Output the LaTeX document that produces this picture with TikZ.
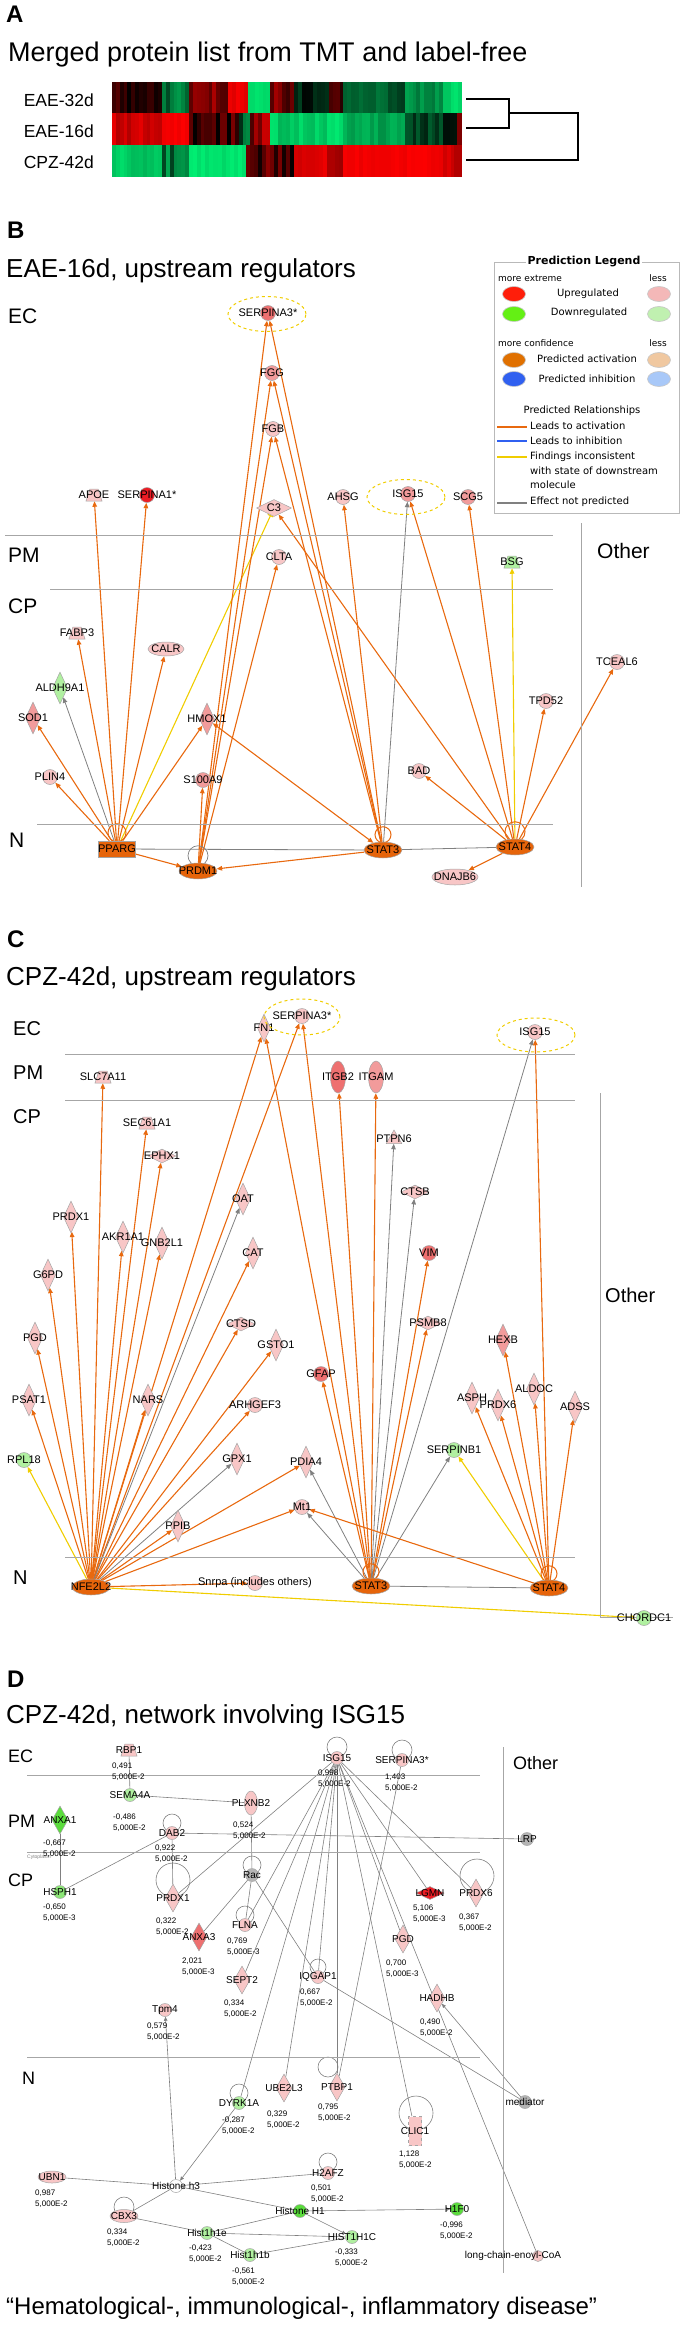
\documentclass[tikz,border=0pt]{standalone}
\usepackage{fontspec}
\setmainfont{Liberation Sans}
\newfontfamily\legfont{DejaVu Sans}
\usetikzlibrary{shapes.geometric,arrows.meta}
\pgfdeclarelayer{bg}
\pgfsetlayers{bg,main}
\definecolor{pk}{RGB}{248,198,198}
\definecolor{pkm}{RGB}{242,155,155}
\definecolor{pkr}{RGB}{238,112,112}
\definecolor{rd}{RGB}{236,28,36}
\definecolor{lgr}{RGB}{176,240,160}
\definecolor{grn}{RGB}{90,220,60}
\definecolor{org}{RGB}{230,100,10}
\definecolor{eor}{RGB}{232,105,15}
\definecolor{egy}{RGB}{128,128,128}
\definecolor{eyl}{RGB}{240,205,0}
\definecolor{nbd}{RGB}{165,165,165}
\definecolor{gyn}{RGB}{180,180,180}
\definecolor{hmR}{RGB}{255,0,0}
\definecolor{hmG}{RGB}{0,240,115}
\definecolor{lgRed}{RGB}{255,30,10}
\definecolor{lgPink}{RGB}{244,184,184}
\definecolor{lgGreen}{RGB}{100,240,20}
\definecolor{lgLGreen}{RGB}{192,240,176}
\definecolor{lgOrg}{RGB}{224,112,0}
\definecolor{lgLOrg}{RGB}{240,200,160}
\definecolor{lgBlue}{RGB}{48,96,240}
\definecolor{lgLBlue}{RGB}{168,200,248}
\newcommand\molnode[5]{\node[#1,fill=#2] (#3) at (#4) {}; \node[lbl] (#3-l) at (#3) {#5};}
\newcommand\valnode[3]{\node[valtxt] (#1) at (#2) {#3};}
\newcommand\heatrow[3]{% #1 y top, #2 y bottom, #3 segment list
  \foreach \xa/\xb/\c/\lo/\hi in {#3}{
    \pgfmathtruncatemacro\n{max(1,round((\xb-\xa)/4))}
    \pgfmathsetmacro\w{(\xb-\xa)/\n}
    \foreach \k in {1,...,\n}{
      \pgfmathtruncatemacro\v{\lo+rnd*(\hi-\lo)}
      \fill[fill=\c!\v!black] ({\xa+(\k-1)*\w},#1) rectangle ({\xa+\k*\w+0.4},#2);
    }
  }}
\begin{document}
\begin{tikzpicture}[x=1pt,y=-1pt,
 nd/.style={draw=nbd, line width=0.5pt, inner sep=0pt},
 circ/.style={nd, circle, minimum size=15pt},
 scirc/.style={nd, circle, minimum size=13pt},
 dia/.style={nd, diamond, minimum width=15pt, minimum height=32pt},
 hdia/.style={nd, diamond, minimum width=32pt, minimum height=15pt},
 trap/.style={nd, trapezium, trapezium stretches=true, trapezium left angle=65, trapezium right angle=65, inner sep=1pt, minimum width=16pt, minimum height=12pt},
 tri/.style={nd, regular polygon, regular polygon sides=3, minimum size=18pt},
 ell/.style={nd, ellipse, minimum width=38pt, minimum height=16pt},
 vell/.style={nd, ellipse, minimum width=15pt, minimum height=32pt},
 rect/.style={nd, rectangle, minimum width=37pt, minimum height=16pt},
 lbl/.style={inner sep=0pt, font=\fontsize{11}{11}\selectfont},
 valtxt/.style={anchor=north west, inner sep=0pt, align=left, font=\fontsize{8}{11}\selectfont},
 tip/.style={-{Triangle[length=5.5pt,width=4.5pt]}},
 ea/.style={draw=eor, line width=1.1pt, tip},
 eab/.style={draw=eor, line width=1.1pt, {Triangle[length=5.5pt,width=4.5pt]}-{Triangle[length=5.5pt,width=4.5pt]}},
 eg/.style={draw=egy, line width=0.8pt, tip},
 egl/.style={draw=egy, line width=0.8pt},
 ey/.style={draw=eyl, line width=1.1pt, tip},
 dl/.style={draw=egy, line width=0.6pt},
 dla/.style={draw=egy, line width=0.6pt, -{Triangle[length=4pt,width=3.5pt]}},
 loopo/.style={draw=eor, line width=1pt},
 loopg/.style={draw=egy, line width=0.7pt},
 sepl/.style={draw=gray!70, line width=0.9pt},
 dashell/.style={draw=eyl, dashed, line width=1pt, ellipse, inner sep=0pt},
 pletter/.style={anchor=base west, inner sep=0pt, font=\bfseries\fontsize{24}{24}\selectfont},
 ptitle/.style={anchor=base west, inner sep=0pt, font=\fontsize{26}{26}\selectfont},
 sect/.style={anchor=base west, inner sep=0pt, font=\fontsize{21}{21}\selectfont},
 rowlbl/.style={anchor=east, inner sep=0pt, font=\fontsize{17.5}{17.5}\selectfont},
 legtxt/.style={inner sep=0pt, font=\legfont\fontsize{10}{10}\selectfont},
 legsm/.style={inner sep=0pt, font=\legfont\fontsize{9}{9}\selectfont},
 legell/.style={ellipse, draw=gray!45, line width=0.6pt, minimum width=23pt, minimum height=15pt, inner sep=0pt}
]
\useasboundingbox (0,0) rectangle (685,2325);

% ================= Panel A =================
\node[pletter] (pA) at (6,23) {A};
\node[ptitle, font=\fontsize{27}{27}\selectfont] (tA) at (8,62) {Merged protein list from TMT and label-free};
\node[rowlbl] (rA1) at (94,100) {EAE-32d};
\node[rowlbl] (rA2) at (94,131) {EAE-16d};
\node[rowlbl] (rA3) at (94,162) {CPZ-42d};
\pgfmathsetseed{11}
\heatrow{82}{113.8}{112/162/hmR/0/35, 162/189/hmG/15/70, 189/228/hmR/30/70, 228/248/hmR/85/100, 248/270/hmG/90/100, 270/294/hmR/20/90, 294/329/hmG/0/30, 329/343/hmR/10/40, 343/388/hmG/35/55, 388/405/hmG/22/40, 405/443/hmG/50/70, 443/462/hmG/80/100}
\heatrow{113.5}{145.3}{112/162/hmR/70/95, 162/189/hmR/92/100, 189/239/hmR/0/55, 239/250/hmG/10/60, 250/270/hmR/30/80, 270/327/hmG/75/95, 327/343/hmG/90/100, 343/405/hmG/60/80, 405/443/hmG/15/45, 443/457/hmG/0/10, 457/462/hmR/30/50}
\heatrow{145}{177}{112/162/hmG/75/95, 162/189/hmG/25/70, 189/246/hmG/88/100, 246/294/hmR/0/60, 294/327/hmR/75/95, 327/343/hmR/60/75, 343/443/hmR/92/100, 443/462/hmR/70/90}
\draw[line width=1.8pt] (466,99) -- (509,99) -- (509,128) -- (466,128);
\draw[line width=1.8pt] (509,113) -- (578,113) -- (578,160) -- (466,160);

% ================= Panel B =================
\node[pletter] (pB) at (7,239) {B};
\node[ptitle] (tB) at (6,277) {EAE-16d, upstream regulators};
\node[sect] (bEC) at (8,323) {EC};
\node[sect] (bPM) at (8,562) {PM};
\node[sect] (bCP) at (8,613) {CP};
\node[sect] (bN) at (9,847) {N};
\node[sect] (bOther) at (597,558) {Other};
\draw[sepl] (5,535) -- (553,535);
\draw[sepl] (50,589) -- (553,589);
\draw[sepl] (37,824) -- (553,824);
\draw[sepl] (581,523) -- (581,887);

\molnode{circ}{pkr}{bSA3}{268,313}{SERPINA3*}
\molnode{circ}{pkm}{bFGG}{272,373}{FGG}
\molnode{circ}{pk}{bFGB}{273,429}{FGB}
\molnode{trap}{pk}{bAPOE}{94,495}{APOE}
\molnode{circ}{rd}{bSA1}{147,495}{SERPINA1*}
\molnode{hdia,minimum width=35pt,minimum height=17pt}{pk}{bC3}{274,508}{C3}
\molnode{circ}{pk}{bAHSG}{343,497}{AHSG}
\molnode{circ}{pkm}{bISG}{408,494}{ISG15}
\molnode{circ}{pkm}{bSCG5}{468,497}{SCG5}
\molnode{circ}{pk}{bCLTA}{279,557}{CLTA}
\molnode{trap}{lgr}{bBSG}{512,562}{BSG}
\molnode{trap}{pk}{bFABP}{77,633}{FABP3}
\molnode{ell,minimum width=36pt,minimum height=14pt}{pk}{bCALR}{166,649}{CALR}
\molnode{dia}{lgr}{bALDH}{60,688}{ALDH9A1}
\molnode{dia}{pkm}{bSOD}{33,718}{SOD1}
\molnode{dia}{pkm}{bHMOX}{207,719}{HMOX1}
\molnode{circ}{pk}{bPLIN}{50,777}{PLIN4}
\molnode{circ}{pkm}{bS100}{203,780}{S100A9}
\molnode{rect}{org}{bPPARG}{117,849}{PPARG}
\molnode{ell}{org}{bPRDM}{198,871}{PRDM1}
\molnode{ell}{org}{bSTAT3}{383,850}{STAT3}
\molnode{ell}{org}{bSTAT4}{515,847}{STAT4}
\molnode{ell,minimum width=46pt}{pk}{bDNAJ}{455,877}{DNAJB6}
\molnode{circ}{pk}{bBAD}{419,771}{BAD}
\molnode{circ}{pk}{bTPD}{546,701}{TPD52}
\molnode{circ}{pk}{bTCE}{617,662}{TCEAL6}
\node[dashell, minimum width=78pt, minimum height=35pt] (bSA3e) at (267,314) {};
\node[dashell, minimum width=78pt, minimum height=35pt] (bISGe) at (406,497) {};

% legend
\draw[draw=gray!55, line width=0.8pt] (494,262) rectangle (679,513);
\node[fill=white, inner sep=2pt, font=\legfont\bfseries\fontsize{11}{11}\selectfont] (legT) at (584,262) {Prediction Legend};
\node[legsm, anchor=west] (legME) at (498,278) {more extreme};
\node[legsm] (legL1) at (658,278) {less};
\node[legell, fill=lgRed] (legE1) at (514,294) {};
\node[legtxt] (legU) at (588,294) {Upregulated};
\node[legell, fill=lgPink] (legE2) at (659,294) {};
\node[legell, fill=lgGreen] (legE3) at (514,314) {};
\node[legtxt] (legD) at (589,313) {Downregulated};
\node[legell, fill=lgLGreen] (legE4) at (659,314) {};
\node[legsm, anchor=west] (legMC) at (498,343) {more confidence};
\node[legsm] (legL2) at (658,343) {less};
\node[legell, fill=lgOrg] (legE5) at (514,360) {};
\node[legtxt] (legPA) at (587,359) {Predicted activation};
\node[legell, fill=lgLOrg] (legE6) at (659,360) {};
\node[legell, fill=lgBlue] (legE7) at (514,379) {};
\node[legtxt] (legPI) at (587,379) {Predicted inhibition};
\node[legell, fill=lgLBlue] (legE8) at (659,379) {};
\node[legtxt] (legPR) at (582,411) {Predicted Relationships};
\coordinate (lgA1) at (497,427); \coordinate (lgA2) at (527,427);
\coordinate (lgB1) at (497,441); \coordinate (lgB2) at (527,441);
\coordinate (lgC1) at (497,457); \coordinate (lgC2) at (527,457);
\coordinate (lgD1) at (497,503); \coordinate (lgD2) at (527,503);
\draw[draw=eor, line width=1.8pt] (lgA1) -- (lgA2);
\draw[draw=lgBlue, line width=1.8pt] (lgB1) -- (lgB2);
\draw[draw=eyl, line width=1.8pt] (lgC1) -- (lgC2);
\draw[draw=egy, line width=1.8pt] (lgD1) -- (lgD2);
\node[legtxt, anchor=west] (legLA) at (530,426) {Leads to activation};
\node[legtxt, anchor=west] (legLI) at (530,441) {Leads to inhibition};
\node[legtxt, anchor=north west, align=left, font=\legfont\fontsize{10}{14.5}\selectfont] (legFI) at (530,452) {Findings inconsistent\\with state of downstream\\molecule};
\node[legtxt, anchor=west] (legEN) at (530,502) {Effect not predicted};

% ================= Panel C =================
\node[pletter] (pC) at (7,947) {C};
\node[ptitle] (tC) at (6,985) {CPZ-42d, upstream regulators};
\begin{scope}[sect/.style={anchor=base west, inner sep=0pt, font=\fontsize{20}{20}\selectfont}]
\node[sect] (cEC) at (13,1035) {EC};
\node[sect] (cPM) at (13,1079) {PM};
\node[sect] (cCP) at (13,1123) {CP};
\node[sect] (cN) at (13,1584) {N};
\node[sect] (cOther) at (605,1302) {Other};
\end{scope}
\draw[sepl] (65,1054) -- (575,1054);
\draw[sepl] (65,1100) -- (575,1100);
\draw[sepl] (65,1557) -- (575,1557);
\draw[sepl] (600,1093) -- (600,1617) -- (673,1617);

\molnode{dia,minimum width=13pt,minimum height=28pt}{pk}{cFN1}{264,1028}{FN1}
\molnode{circ}{pk}{cSA3}{302,1016}{SERPINA3*}
\molnode{circ}{pk}{cISG}{535,1032}{ISG15}
\molnode{trap}{pk}{cSLC}{103,1077}{SLC7A11}
\molnode{vell}{pkr}{cITGB}{338,1077}{ITGB2}
\molnode{vell}{pkm}{cITGAM}{376,1077}{ITGAM}
\molnode{trap}{pk}{cSEC}{147,1123}{SEC61A1}
\molnode{hdia,minimum width=28pt,minimum height=14pt}{pk}{cEPHX}{162,1156}{EPHX1}
\molnode{dia}{pk}{cOAT}{243,1199}{OAT}
\molnode{dia}{pk}{cPRDX1}{71,1217}{PRDX1}
\molnode{dia}{pk}{cAKR}{123,1237}{AKR1A1}
\molnode{dia}{pk}{cGNB}{162,1243}{GNB2L1}
\molnode{dia}{pk}{cCAT}{253,1253}{CAT}
\molnode{dia}{pk}{cG6PD}{48,1275}{G6PD}
\molnode{hdia,minimum width=28pt,minimum height=14pt}{pk}{cCTSD}{241,1324}{CTSD}
\molnode{dia}{pk}{cPGD}{35,1338}{PGD}
\molnode{dia}{pk}{cGSTO}{276,1345}{GSTO1}
\molnode{circ}{pkr}{cGFAP}{321,1374}{GFAP}
\molnode{dia}{pk}{cPSAT}{29,1400}{PSAT1}
\molnode{dia}{pk}{cNARS}{148,1400}{NARS}
\molnode{circ}{pk}{cARH}{255,1405}{ARHGEF3}
\molnode{tri}{pk}{cPTPN}{394,1139}{PTPN6}
\molnode{hdia,minimum width=28pt,minimum height=14pt}{pk}{cCTSB}{415,1192}{CTSB}
\molnode{circ}{pkr}{cVIM}{429,1253}{VIM}
\molnode{hdia,minimum width=28pt,minimum height=14pt}{pk}{cPSMB}{428,1323}{PSMB8}
\molnode{dia}{pkm}{cHEXB}{503,1340}{HEXB}
\molnode{dia}{pk}{cALDOC}{534,1389}{ALDOC}
\molnode{dia}{pk}{cASPH}{472,1398}{ASPH}
\molnode{dia}{pk}{cPRDX6}{498,1405}{PRDX6}
\molnode{dia}{pk}{cADSS}{575,1407}{ADSS}
\molnode{circ}{lgr}{cRPL}{24,1460}{RPL18}
\molnode{dia}{pk}{cGPX}{237,1459}{GPX1}
\molnode{dia}{pk}{cPDIA}{306,1462}{PDIA4}
\molnode{circ}{pk}{cMT1}{302,1507}{Mt1}
\molnode{dia}{pk}{cPPIB}{178,1526}{PPIB}
\molnode{ell}{org}{cNFE}{91,1587}{NFE2L2}
\molnode{circ}{pk}{cSNR}{255,1583}{Snrpa (includes others)}
\molnode{circ}{lgr}{cSERB}{454,1450}{SERPINB1}
\molnode{ell}{org}{cSTAT3}{371,1586}{STAT3}
\molnode{ell}{org}{cSTAT4}{549,1588}{STAT4}
\molnode{circ}{lgr}{cCHO}{644,1618}{CHORDC1}
\node[dashell, minimum width=76pt, minimum height=36pt] (cSA3e) at (302,1017) {};
\node[dashell, minimum width=78pt, minimum height=34pt] (cISGe) at (536,1035) {};

% ================= Panel D =================
\node[pletter] (pD) at (7,1687) {D};
\node[ptitle] (tD) at (6,1723) {CPZ-42d, network involving ISG15};
\begin{scope}[sect/.style={anchor=base west, inner sep=0pt, font=\fontsize{18}{18}\selectfont}]
\node[sect] (dEC) at (8,1762) {EC};
\node[sect] (dPM) at (8,1827) {PM};
\node[sect] (dCP) at (8,1886) {CP};
\node[sect] (dN) at (22,2084) {N};
\node[sect] (dOther) at (513,1769) {Other};
\end{scope}
\draw[sepl, line width=0.7pt] (27,1775) -- (480,1775);
\draw[sepl, line width=0.7pt] (27,1852) -- (480,1852);
\draw[sepl, line width=0.7pt] (27,2057) -- (480,2057);
\draw[sepl, line width=0.7pt] (503,1747) -- (503,2273);
\node[anchor=west, inner sep=0pt, text=gray, font=\fontsize{5}{5}\selectfont] (dCyto) at (27,1857) {Cytoplasm};
\node[ptitle, font=\fontsize{24}{24}\selectfont] (capD) at (6,2314) {“Hematological-, immunological-, inflammatory disease”};

\begin{scope}[lbl/.style={inner sep=0pt, font=\fontsize{10}{10}\selectfont},
  dia/.style={nd, diamond, minimum width=16pt, minimum height=28pt}]
\molnode{trap}{pk}{dRBP}{129,1750}{RBP1}
\molnode{scirc}{pk}{dISG}{337,1758}{ISG15}
\molnode{scirc}{pk}{dSA3}{402,1760}{SERPINA3*}
\molnode{scirc}{lgr}{dSEMA}{130,1795}{SEMA4A}
\molnode{vell,minimum width=13pt,minimum height=24pt}{pk}{dPLX}{251,1803}{PLXNB2}
\molnode{dia}{grn}{dANX1}{60,1820}{ANXA1}
\molnode{scirc}{pk}{dDAB}{172,1833}{DAB2}
\molnode{scirc}{gyn}{dLRP}{527,1839}{LRP}
\molnode{scirc}{grn!70!white}{dHSP}{60,1892}{HSPH1}
\molnode{dia}{pk}{dPRDX1}{173,1898}{PRDX1}
\molnode{scirc}{gyn}{dRAC}{252,1875}{Rac}
\molnode{hdia,minimum width=28pt,minimum height=13pt}{rd}{dLGMN}{430,1893}{LGMN}
\molnode{dia}{pk}{dPRDX6}{476,1893}{PRDX6}
\molnode{dia}{pkr}{dANX3}{199,1937}{ANXA3}
\molnode{scirc}{pk}{dFLNA}{245,1925}{FLNA}
\molnode{dia}{pk}{dPGD}{403,1939}{PGD}
\molnode{scirc}{pk}{dIQG}{318,1977}{IQGAP1}
\molnode{dia}{pk}{dSEPT}{242,1980}{SEPT2}
\molnode{dia}{pk}{dHAD}{437,1998}{HADHB}
\molnode{scirc}{pk}{dTPM}{165,2010}{Tpm4}
\molnode{scirc}{lgr}{dDYR}{239,2103}{DYRK1A}
\molnode{dia}{pk}{dUBE}{284,2088}{UBE2L3}
\molnode{dia}{pk}{dPTB}{337,2087}{PTBP1}
\molnode{scirc}{gyn}{dMED}{525,2102}{mediator}
\molnode{rect,dashed,minimum width=13pt,minimum height=29pt}{pk}{dCLIC}{415,2131}{CLIC1}
\molnode{ell,minimum width=28pt,minimum height=12pt}{pk}{dUBN}{52,2177}{UBN1}
\molnode{scirc}{white}{dH3}{176,2186}{Histone h3}
\molnode{scirc}{pk}{dH2A}{328,2173}{H2AFZ}
\molnode{ell,minimum width=28pt,minimum height=13pt}{pk}{dCBX}{124,2216}{CBX3}
\molnode{scirc}{grn}{dH1}{300,2211}{Histone H1}
\molnode{scirc}{lgr}{dH1E}{207,2233}{Hist1h1e}
\molnode{scirc}{lgr}{dH1B}{250,2255}{Hist1h1b}
\molnode{scirc}{lgr}{dH1C}{352,2237}{HIST1H1C}
\molnode{scirc}{grn}{dH1F0}{457,2209}{H1F0}
\molnode{circ,minimum size=11pt}{pk}{dLCOA}{538,2256}{}
\node[lbl] (dLCOAt) at (513,2256) {long-chain-enoyl-CoA};
\end{scope}

\valnode{vRBP}{112,1763}{0,491\\5,000E-2}
\valnode{vISG}{318,1770}{0,998\\5,000E-2}
\valnode{vSA3}{385,1774}{1,403\\5,000E-2}
\valnode{vSEMA}{113,1814}{-0,486\\5,000E-2}
\valnode{vPLX}{233,1822}{0,524\\5,000E-2}
\valnode{vANX1}{43,1840}{-0,667\\5,000E-2}
\valnode{vDAB}{155,1845}{0,922\\5,000E-2}
\valnode{vHSP}{43,1904}{-0,650\\5,000E-3}
\valnode{vPRDX1}{156,1918}{0,322\\5,000E-2}
\valnode{vLGMN}{413,1905}{5,106\\5,000E-3}
\valnode{vPRDX6}{459,1914}{0,367\\5,000E-2}
\valnode{vANX3}{182,1958}{2,021\\5,000E-3}
\valnode{vFLNA}{227,1938}{0,769\\5,000E-3}
\valnode{vPGD}{386,1960}{0,700\\5,000E-3}
\valnode{vIQG}{300,1989}{0,667\\5,000E-2}
\valnode{vSEPT}{224,2000}{0,334\\5,000E-2}
\valnode{vHAD}{420,2019}{0,490\\5,000E-2}
\valnode{vTPM}{147,2023}{0,579\\5,000E-2}
\valnode{vDYR}{222,2117}{-0,287\\5,000E-2}
\valnode{vUBE}{267,2111}{0,329\\5,000E-2}
\valnode{vPTB}{318,2104}{0,795\\5,000E-2}
\valnode{vCLIC}{399,2151}{1,128\\5,000E-2}
\valnode{vUBN}{35,2190}{0,987\\5,000E-2}
\valnode{vH2A}{311,2185}{0,501\\5,000E-2}
\valnode{vCBX}{107,2229}{0,334\\5,000E-2}
\valnode{vH1E}{189,2245}{-0,423\\5,000E-2}
\valnode{vH1B}{232,2268}{-0,561\\5,000E-2}
\valnode{vH1C}{335,2249}{-0,333\\5,000E-2}
\valnode{vH1F0}{440,2222}{-0,996\\5,000E-2}

% ================= Edges =================
\begin{pgfonlayer}{bg}
% B
\foreach \tg in {bAPOE,bSA1,bFABP,bCALR,bSOD,bPLIN,bHMOX,bPRDM} \draw[ea] (bPPARG) -- (\tg);
\draw[eg] (bPPARG) -- (bALDH);
\draw[draw=eyl, line width=1.1pt, -{Bar[width=6pt]}] (bPPARG) -- (bC3);
\draw[egl] (bPPARG) -- (bSTAT3);
\foreach \tg in {bSA3,bFGG,bFGB,bCLTA,bS100} \draw[ea] (bPRDM) -- (\tg);
\foreach \tg in {bSA3,bFGG,bFGB,bAHSG,bPRDM} \draw[ea] (bSTAT3) -- (\tg);
\draw[eab] (bSTAT3) -- (bHMOX);
\draw[eg] (bSTAT3) -- (bISG);
\foreach \tg in {bC3,bISG,bSCG5,bTPD,bTCE,bBAD,bDNAJ} \draw[ea] (bSTAT4) -- (\tg);
\draw[ey] (bSTAT4) -- (bBSG);
\draw[egl] (bSTAT3) -- (bSTAT4);
\draw[loopo] ([yshift=8pt]bPPARG.north) circle (9);
\draw[loopg] ([yshift=7pt]bPRDM.north) circle (10);
\draw[loopo] ([yshift=7pt]bSTAT3.north) circle (8);
\draw[loopo] ([yshift=7pt]bSTAT4.north) circle (10);
% C
\foreach \tg in {cSLC,cSEC,cEPHX,cPRDX1,cAKR,cGNB,cG6PD,cPGD,cPSAT,cNARS,cCAT,cCTSD,cGSTO,cARH,cPDIA,cMT1,cPPIB,cSNR,cFN1,cSA3} \draw[ea] (cNFE) -- (\tg);
\draw[eg] (cNFE) -- (cOAT);
\draw[eg] (cNFE) -- (cGPX);
\draw[ey] (cNFE) -- (cRPL);
\draw[ey] (cNFE) -- (cCHO);
\foreach \tg in {cITGB,cITGAM,cVIM,cPSMB,cGFAP,cFN1,cSA3} \draw[ea] (cSTAT3) -- (\tg);
\foreach \tg in {cPTPN,cCTSB,cISG,cSERB,cPDIA,cMT1} \draw[eg] (cSTAT3) -- (\tg);
\foreach \tg in {cISG,cHEXB,cASPH,cPRDX6,cALDOC,cADSS,cMT1} \draw[ea] (cSTAT4) -- (\tg);
\draw[ey] (cSTAT4) -- (cSERB);
\draw[egl] (cSTAT3) -- (cSTAT4);
\draw[loopo] ([yshift=6pt]cSTAT3.north) circle (8);
\draw[loopo] ([yshift=6pt]cSTAT4.north) circle (8);
% D
\draw[dl] (dRBP) -- (dSEMA);
\draw[dl] (dSEMA) -- (dPLX);
\draw[dl] (dANX1) -- (dHSP);
\draw[dl] (dHSP) -- (dDAB);
\draw[dl] (dDAB) -- (dPRDX1);
\draw[dl] (dDAB) -- (dLRP);
\draw[dl] (dPLX) -- (dRAC);
\draw[dl] (dRAC) -- (dANX3);
\draw[dl] (dRAC) -- (dFLNA);
\draw[dl] (dRAC) -- (dIQG);
\draw[dl] (dIQG) -- (dMED);
\draw[dla] (dMED) -- (dHAD);
\draw[dla] (dH3) -- (dTPM);
\draw[dla] (dDYR) -- (dH3);
\draw[dl] (dUBN) -- (dH3);
\draw[dl] (dH3) -- (dH2A);
\draw[dl] (dH3) -- (dCBX);
\draw[dl] (dH3) -- (dH1);
\draw[dl] (dCBX) -- (dH1E);
\draw[dl] (dH1E) -- (dH1);
\draw[dl] (dH1E) -- (dH1C);
\draw[dl] (dH1E) -- (dH1B);
\draw[dl] (dH1B) -- (dH1C);
\draw[dla] (dH1) -- (dH1C);
\draw[dla] (dH1) -- (dH1F0);
\foreach \tg in {dPRDX1,dFLNA,dSEPT,dIQG,dDYR,dUBE,dPTB,dCLIC,dPGD,dLGMN,dPRDX6,dLCOA} \draw[dl] (dISG) -- (\tg);
\draw[dl] (dSA3) -- (dPTB);
\foreach \cx/\cy/\r in {337/1747/10, 402/1750/10, 172/1823/9, 173/1880/17, 252/1865/9, 477/1876/17, 245/1915/9, 318/1967/8, 239/2093/9, 328/2067/10, 416/2113/17, 328/2162/9, 124/2207/10}
  \draw[loopg, line width=0.6pt] (\cx,\cy) circle (\r);
\end{pgfonlayer}
\end{tikzpicture}
\end{document}
